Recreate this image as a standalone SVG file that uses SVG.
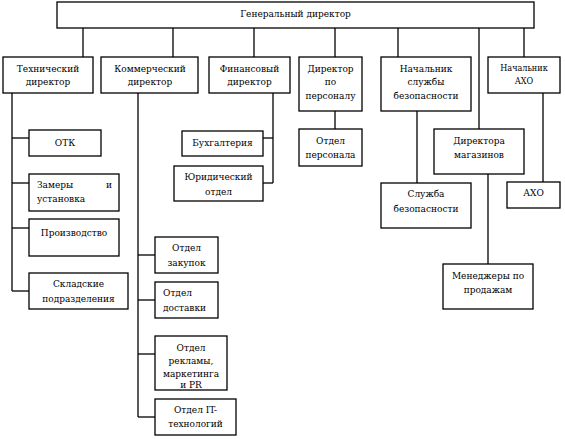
<svg xmlns="http://www.w3.org/2000/svg" width="565" height="439" viewBox="0 0 565 439">
<style>
rect{fill:#fff;stroke:#000;stroke-width:1.3}
.c line{stroke:#000;stroke-width:1.3}
text{font-family:'DejaVu Serif Condensed','DejaVu Serif',serif;font-size:10px;fill:#000;text-anchor:middle}
.l{text-anchor:start}
.e{text-anchor:end}
.s{font-size:9px}
</style>
<rect x="0" y="0" width="565" height="439" style="stroke:none"/>
<g class="c" id="connectors">
<line x1="83" y1="28" x2="83" y2="57"/>
<line x1="173" y1="28" x2="173" y2="57"/>
<line x1="254" y1="28" x2="254" y2="57"/>
<line x1="335" y1="28" x2="335" y2="57"/>
<line x1="398" y1="28" x2="398" y2="57"/>
<line x1="479" y1="28" x2="479" y2="129"/>
<line x1="524" y1="28" x2="524" y2="57"/>
<line x1="12" y1="93" x2="12" y2="291"/>
<line x1="12" y1="138" x2="29" y2="138"/>
<line x1="12" y1="183" x2="29" y2="183"/>
<line x1="12" y1="228" x2="29" y2="228"/>
<line x1="12" y1="291" x2="29" y2="291"/>
<line x1="138" y1="93" x2="138" y2="417"/>
<line x1="138" y1="255" x2="155" y2="255"/>
<line x1="138" y1="300" x2="155" y2="300"/>
<line x1="138" y1="354" x2="155" y2="354"/>
<line x1="138" y1="417" x2="155" y2="417"/>
<line x1="273" y1="93" x2="273" y2="183"/>
<line x1="263" y1="138" x2="273" y2="138"/>
<line x1="263" y1="183" x2="273" y2="183"/>
<line x1="335" y1="111" x2="335" y2="129"/>
<line x1="417" y1="111" x2="417" y2="183"/>
<line x1="488" y1="174" x2="488" y2="264"/>
<line x1="543" y1="93" x2="543" y2="182"/>
</g>
<g id="gen"><rect x="57" y="2" width="477" height="26"/><text x="295.5" y="17">Генеральный директор</text></g>
<g id="tech"><rect x="3" y="57" width="90" height="36"/><text x="48" y="72">Технический</text><text x="48" y="85">директор</text></g>
<g id="comm"><rect x="101" y="57" width="97" height="36"/><text x="150" y="72">Коммерческий</text><text x="150" y="85">директор</text></g>
<g id="fin"><rect x="209" y="57" width="81" height="36"/><text x="249.5" y="72">Финансовый</text><text x="249.5" y="85">директор</text></g>
<g id="pers"><rect x="299" y="57" width="63" height="54"/><text x="330.5" y="72">Директор</text><text x="330.5" y="85">по</text><text x="330.5" y="99">персоналу</text></g>
<g id="sec"><rect x="381" y="57" width="90" height="54"/><text x="426" y="72">Начальник</text><text x="426" y="85">службы</text><text x="426" y="99">безопасности</text></g>
<g id="aho-head"><rect x="488" y="57" width="72" height="36"/><text class="s" x="524" y="71">Начальник</text><text class="s" x="524" y="84">АХО</text></g>
<g id="otk"><rect x="29" y="130" width="72" height="26"/><text x="65" y="146">ОТК</text></g>
<g id="zamery"><rect x="29" y="174" width="90" height="37"/><text class="l" x="37" y="188">Замеры</text><text class="e" x="112" y="188">и</text><text class="l" x="37" y="202">установка</text></g>
<g id="proizv"><rect x="29" y="219" width="90" height="37"/><text x="74" y="236">Производство</text></g>
<g id="sklad"><rect x="29" y="273" width="99" height="36"/><text x="78.5" y="287">Складские</text><text x="78.5" y="302">подразделения</text></g>
<g id="buh"><rect x="182" y="131" width="81" height="25"/><text x="222.5" y="146">Бухгалтерия</text></g>
<g id="yur"><rect x="174" y="166" width="89" height="35"/><text x="218.5" y="180">Юридический</text><text x="218.5" y="195">отдел</text></g>
<g id="otdpers"><rect x="299" y="129" width="63" height="37"/><text x="330.5" y="144">Отдел</text><text x="330.5" y="158">персонала</text></g>
<g id="slsec"><rect x="381" y="183" width="90" height="45"/><text x="426" y="197">Служба</text><text x="426" y="212">безопасности</text></g>
<g id="shops"><rect x="434" y="129" width="90" height="45"/><text x="479" y="144">Директора</text><text x="479" y="158">магазинов</text></g>
<g id="aho"><rect x="507" y="182" width="53" height="26"/><text x="533.5" y="196">АХО</text></g>
<g id="sales"><rect x="443" y="264" width="90" height="45"/><text x="488" y="279">Менеджеры по</text><text x="488" y="293">продажам</text></g>
<g id="zakup"><rect x="155" y="237" width="63" height="36"/><text x="186.5" y="251">Отдел</text><text x="186.5" y="266">закупок</text></g>
<g id="dost"><rect x="155" y="282" width="63" height="36"/><text class="l" x="163" y="296">Отдел</text><text class="l" x="163" y="311">доставки</text></g>
<g id="reklama"><rect x="155" y="336" width="72" height="54"/><text x="191" y="351">Отдел</text><text x="191" y="364">рекламы,</text><text x="191" y="377">маркетинга</text><text x="191" y="388">и PR</text></g>
<g id="it"><rect x="155" y="399" width="81" height="36"/><text x="195.5" y="413">Отдел IT-</text><text x="195.5" y="427">технологий</text></g>
</svg>
